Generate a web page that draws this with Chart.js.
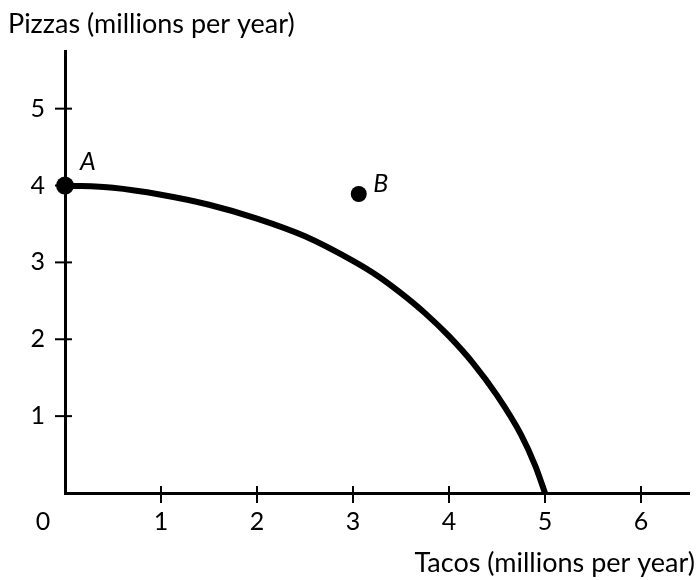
<!DOCTYPE html>
<html>
<head>
<meta charset="utf-8">
<script src="https://cdn.jsdelivr.net/npm/chart.js@4.4.0/dist/chart.umd.min.js"></script>
<style>
  html, body { margin: 0; padding: 0; background: #fff; }
  #wrap { width: 698px; height: 580px; }
</style>
</head>
<body>
<div id="wrap"><canvas id="ppf"></canvas></div>
<script>
// production possibilities frontier
const tacos = [0, 0.5, 1, 1.5, 2, 2.5, 3, 3.25, 3.5, 3.75, 4, 4.25, 4.5, 4.75, 4.9, 5];
const pizzas = [4, 3.97, 3.88, 3.75, 3.57, 3.34, 3.02, 2.83, 2.6, 2.34, 2.04, 1.69, 1.27, 0.76, 0.35, 0];

const pointNames = ['A', 'B'];
const pointTacos = [0, 3.06];
const pointPizzas = [4, 3.89];

const xTicks = [1, 2, 3, 4, 5, 6];
const yTicks = [1, 2, 3, 4, 5];

const xTitle = 'Tacos (millions per year)';
const yTitle = 'Pizzas (millions per year)';

const FONT = "Lato, 'Open Sans', sans-serif";

const axisExtras = {
  id: 'axisExtras',
  afterDraw(chart) {
    const ctx = chart.ctx;
    const x = chart.scales.x, y = chart.scales.y;
    const x0 = x.getPixelForValue(0), y0 = y.getPixelForValue(0);
    ctx.save();
    ctx.strokeStyle = '#000';
    ctx.lineWidth = 2;
    // tick marks crossing the axes
    xTicks.forEach(v => {
      const px = x.getPixelForValue(v);
      ctx.beginPath();
      ctx.moveTo(px, y0 - 7);
      ctx.lineTo(px, y0 + 10);
      ctx.stroke();
    });
    yTicks.forEach(v => {
      const py = y.getPixelForValue(v);
      ctx.beginPath();
      ctx.moveTo(x0 - 10, py);
      ctx.lineTo(x0 + 7, py);
      ctx.stroke();
    });
    ctx.fillStyle = '#000';
    ctx.font = '25px ' + FONT;
    ctx.textAlign = 'center';
    ctx.textBaseline = 'middle';
    ctx.fillText('0', x0 - 22, y0 + 29);

    // axis titles
    ctx.font = '27px ' + FONT;
    ctx.textBaseline = 'alphabetic';
    ctx.textAlign = 'left';
    ctx.fillText(yTitle, 8, 33);
    ctx.textAlign = 'right';
    ctx.fillText(xTitle, 695, 572);

    // point names
    ctx.font = 'italic 25px ' + FONT;
    ctx.textAlign = 'center';
    ctx.textBaseline = 'middle';
    const offs = [[23, -24], [22, -10]];
    pointNames.forEach((n, i) => {
      const px = x.getPixelForValue(pointTacos[i]);
      const py = y.getPixelForValue(pointPizzas[i]);
      ctx.fillText(n, px + offs[i][0], py + offs[i][1]);
    });
    ctx.restore();
  }
};

const ctx = document.getElementById('ppf').getContext('2d');
new Chart(ctx, {
  type: 'scatter',
  data: {
    datasets: [{
      data: tacos.map((t, i) => ({x: t, y: pizzas[i]})),
      showLine: true,
      borderColor: '#000',
      borderWidth: 6,
      pointRadius: 0,
      cubicInterpolationMode: 'monotone',
      clip: false,
      order: 2
    }, {
      data: pointTacos.map((t, i) => ({x: t, y: pointPizzas[i]})),
      pointRadius: [9, 8],
      pointBackgroundColor: '#000',
      pointBorderWidth: 0,
      clip: false,
      order: 1
    }]
  },
  options: {
    responsive: true,
    maintainAspectRatio: false,
    animation: false,
    layout: { padding: { top: 51, right: 8, left: 0, bottom: 0 } },
    plugins: {
      legend: { display: false },
      tooltip: { enabled: false }
    },
    scales: {
      x: {
        type: 'linear',
        min: 0,
        max: 6.5,
        afterBuildTicks: s => { s.ticks = xTicks.map(v => ({value: v})); },
        afterFit: s => { s.height = 87; },
        grid: { display: false },
        border: { display: true, color: '#000', width: 3 },
        ticks: {
          color: '#000',
          padding: 6,
          font: { family: FONT, size: 25 },
          callback: v => String(v)
        }
      },
      y: {
        type: 'linear',
        min: 0,
        max: 5.75,
        afterBuildTicks: s => { s.ticks = yTicks.map(v => ({value: v})); },
        afterFit: s => { s.width = 65; },
        grid: { display: false },
        border: { display: true, color: '#000', width: 3 },
        ticks: {
          color: '#000',
          padding: 12,
          font: { family: FONT, size: 25 },
          callback: v => String(v)
        }
      }
    }
  },
  plugins: [axisExtras]
});
</script>
</body>
</html>
